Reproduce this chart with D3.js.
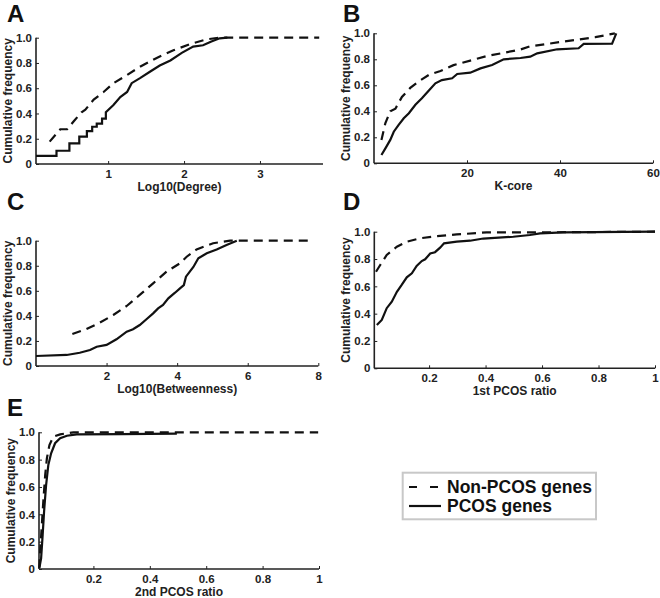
<!DOCTYPE html>
<html><head><meta charset="utf-8">
<script src="https://cdn.jsdelivr.net/npm/d3@7"></script>
<style>body{margin:0;background:#fff}svg{display:block}text{font-family:"Liberation Sans",Arial,sans-serif;font-weight:bold;fill:#222}</style>
</head><body>
<script>
// ---- data ----
const panelLetters = ["A","B","C","D","E"];
const xLabels = ["Log10(Degree)","K-core","Log10(Betweenness)","1st PCOS ratio","2nd PCOS ratio"];
const yLabel = "Cumulative frequency";
const yTicks = [0,0.2,0.4,0.6,0.8,1.0];
const xTicksA = [1,2,3];
const xTicksB = [20,40,60];
const xTicksC = [2,4,6,8];
const xTicksD = [0.2,0.4,0.6,0.8,1];
const xTicksE = [0.2,0.4,0.6,0.8,1];
const seriesNames = ["Non-PCOS genes","PCOS genes"];

const degPcosX = [0.05,0.32,0.32,0.49,0.49,0.62,0.62,0.72,0.72,0.79,0.79,0.85,0.85,0.92,0.92,0.97,0.97,1.07,1.16,1.25,1.31,1.42,1.55,1.68,1.82,1.97,2.12,2.25,2.36,2.47,2.57];
const degPcosY = [0.065,0.065,0.105,0.105,0.164,0.164,0.216,0.216,0.26,0.26,0.295,0.295,0.32,0.32,0.36,0.36,0.41,0.467,0.53,0.57,0.64,0.68,0.73,0.78,0.82,0.88,0.93,0.94,0.97,0.995,1.0];
const degNonX = [0.23,0.37,0.46,0.55,0.65,0.70,0.81,0.94,1.07,1.25,1.42,1.64,1.86,2.08,2.3,2.47,3.78];
const degNonY = [0.177,0.275,0.275,0.34,0.41,0.43,0.51,0.57,0.64,0.705,0.77,0.84,0.90,0.95,0.987,1.0,1.0];

const kcPcosX = [1.6,2.45,3.5,4.25,5.3,6.4,7.5,8.9,10.3,11.8,13.2,14.6,16.8,17.9,20.7,22.9,25.4,27.9,31.5,33.6,35.1,39.4,44,45.1,51.2,52.1];
const kcPcosY = [0.064,0.115,0.18,0.243,0.295,0.346,0.385,0.45,0.5,0.56,0.615,0.64,0.654,0.687,0.697,0.73,0.756,0.80,0.81,0.82,0.846,0.877,0.885,0.918,0.92,1.0];
const kcNonX = [1.6,2.45,3.5,4.6,6.0,7.8,9.6,11.8,14.3,17.1,20.7,24.3,27.9,31.5,33.6,40.5,47.6,51.8];
const kcNonY = [0.18,0.31,0.40,0.42,0.51,0.58,0.63,0.68,0.71,0.755,0.79,0.825,0.85,0.875,0.90,0.935,0.97,1.0];

const btwPcosX = [0.0,0.87,1.24,1.53,1.72,2.0,2.28,2.57,2.75,2.94,3.13,3.32,3.46,3.6,3.75,3.94,4.08,4.19,4.25,4.46,4.6,4.84,5.12,5.4,5.69];
const btwPcosY = [0.08,0.088,0.106,0.128,0.154,0.168,0.213,0.274,0.293,0.327,0.373,0.42,0.46,0.487,0.54,0.585,0.62,0.646,0.713,0.79,0.86,0.90,0.93,0.966,1.0];
const btwNonX = [1.03,1.43,1.81,2.19,2.57,2.94,3.32,3.7,4.08,4.27,4.55,5.02,5.5,7.77];
const btwNonY = [0.255,0.295,0.346,0.407,0.479,0.567,0.66,0.753,0.82,0.872,0.93,0.98,1.0,1.0];

const r1PcosX = [0.015,0.0325,0.05,0.068,0.086,0.103,0.121,0.139,0.156,0.174,0.186,0.204,0.221,0.239,0.253,0.298,0.345,0.392,0.498,0.557,0.593,0.675,1.0];
const r1PcosY = [0.317,0.354,0.44,0.488,0.56,0.61,0.666,0.695,0.75,0.785,0.798,0.84,0.85,0.883,0.915,0.927,0.934,0.95,0.963,0.976,0.988,0.995,1.0];
const r1NonX = [0.012,0.027,0.05,0.086,0.121,0.168,0.227,0.298,0.404,0.58,1.0];
const r1NonY = [0.707,0.756,0.83,0.89,0.927,0.952,0.968,0.98,0.995,0.995,1.0];

const r2PcosX = [0.0085,0.0145,0.02,0.025,0.032,0.04,0.05,0.064,0.082,0.106,0.141,0.3,0.496];
const r2PcosY = [0.01,0.078,0.25,0.42,0.61,0.76,0.846,0.92,0.956,0.975,0.985,0.987,0.99];
const r2NonX = [0.008,0.011,0.017,0.023,0.029,0.035,0.044,0.058,0.082,0.129,0.997];
const r2NonY = [0.005,0.127,0.32,0.517,0.688,0.81,0.907,0.968,0.985,1.0,1.0];

// ---- layout ----
const W = 660, H = 598;
const svg = d3.select("body").append("svg").attr("width", W).attr("height", H);
const zip = (xs, ys) => xs.map((x, i) => [x, ys[i]]);

const panels = [
  {letter:panelLetters[0], lx:7, ly:22, xl:xLabels[0], xd:[0.05,3.83], xr:[36,323], yr:[164,37.7], ticks:xTicksA, fmt:d3.format("d"), pcos:zip(degPcosX,degPcosY), non:zip(degNonX,degNonY)},
  {letter:panelLetters[1], lx:343, ly:22, xl:xLabels[1], xd:[0,60], xr:[374,653], yr:[163.3,33.3], ticks:xTicksB, fmt:d3.format("d"), pcos:zip(kcPcosX,kcPcosY), non:zip(kcNonX,kcNonY)},
  {letter:panelLetters[2], lx:7, ly:210, xl:xLabels[2], xd:[0,8], xr:[36,318.3], yr:[366,240.7], ticks:xTicksC, fmt:d3.format("d"), pcos:zip(btwPcosX,btwPcosY), non:zip(btwNonX,btwNonY)},
  {letter:panelLetters[3], lx:343, ly:210, xl:xLabels[3], xd:[0.006,1], xr:[374.3,655], yr:[368.3,231.7], ticks:xTicksD, fmt:d=>d===1?"1":d3.format(".1f")(d), pcos:zip(r1PcosX,r1PcosY), non:zip(r1NonX,r1NonY)},
  {letter:panelLetters[4], lx:7, ly:416, xl:xLabels[4], xd:[0.007,1], xr:[39,319], yr:[569,432.3], ticks:xTicksE, fmt:d=>d===1?"1":d3.format(".1f")(d), pcos:zip(r2PcosX,r2PcosY), non:zip(r2NonX,r2NonY)}
];

const yFmt = d => d === 0 ? "0" : d3.format(".1f")(d);
const DASH = "9,6";

panels.forEach(p => {
  const x = d3.scaleLinear().domain(p.xd).range(p.xr);
  const y = d3.scaleLinear().domain([0,1]).range(p.yr);
  const g = svg.append("g");
  const x0 = p.xr[0], y0 = p.yr[0];

  g.append("text").attr("x", p.lx).attr("y", p.ly).style("font-size","24px").style("fill","#111").text(p.letter);

  const xa = d3.axisBottom(x).tickValues(p.ticks).tickFormat(p.fmt).tickSizeInner(-3).tickSizeOuter(0).tickPadding(6);
  const ya = d3.axisLeft(y).tickValues(yTicks).tickFormat(yFmt).tickSizeInner(-3).tickSizeOuter(0).tickPadding(4);
  const gx = g.append("g").attr("transform", `translate(0,${y0})`).call(xa);
  const gy = g.append("g").attr("transform", `translate(${x0},0)`).call(ya);
  [gx, gy].forEach(a => {
    a.select(".domain").attr("stroke","#222").attr("stroke-width",1.6);
    a.selectAll(".tick line").attr("stroke","#222").attr("stroke-width",1);
    a.selectAll(".tick text").style("font-size","11.5px").style("font-family","Liberation Sans, Arial, sans-serif").style("font-weight","bold").attr("fill","#222");
  });
  gx.selectAll(".tick text").attr("dy","0.71em").attr("y", 6);
  gy.select(".domain").attr("d", `M0,${y0}V${p.yr[1]}`);
  gx.select(".domain").attr("d", `M${x0},0H${p.xr[1]}`);

  g.append("text").attr("x",(p.xr[0]+p.xr[1])/2).attr("y", y0 + 27).attr("text-anchor","middle").style("font-size","12px").text(p.xl);
  g.append("text").attr("transform",`translate(${x0-24},${(p.yr[0]+p.yr[1])/2}) rotate(-90)`).attr("text-anchor","middle").style("font-size","12px").text(yLabel);

  const line = d3.line().x(d => x(d[0])).y(d => y(d[1]));
  g.append("path").datum(p.non).attr("d", line).attr("fill","none").attr("stroke","#111").attr("stroke-width",2.2).attr("stroke-dasharray",DASH);
  g.append("path").datum(p.pcos).attr("d", line).attr("fill","none").attr("stroke","#111").attr("stroke-width",2.2);
});

// legend
const lg = svg.append("g");
lg.append("rect").attr("x",402.7).attr("y",472.7).attr("width",193.3).attr("height",46.6).attr("fill","#fff").attr("stroke","#c8c8c8").attr("stroke-width",2);
lg.append("line").attr("x1",409).attr("x2",441).attr("y1",487).attr("y2",487).attr("stroke","#111").attr("stroke-width",2.2).attr("stroke-dasharray","8,13");
lg.append("line").attr("x1",409).attr("x2",441).attr("y1",506).attr("y2",506).attr("stroke","#111").attr("stroke-width",2.2);
lg.append("text").attr("x",447).attr("y",492.5).style("font-size","17.5px").style("fill","#111").text(seriesNames[0]);
lg.append("text").attr("x",447).attr("y",511.5).style("font-size","17.5px").style("fill","#111").text(seriesNames[1]);
</script>
</body></html>
